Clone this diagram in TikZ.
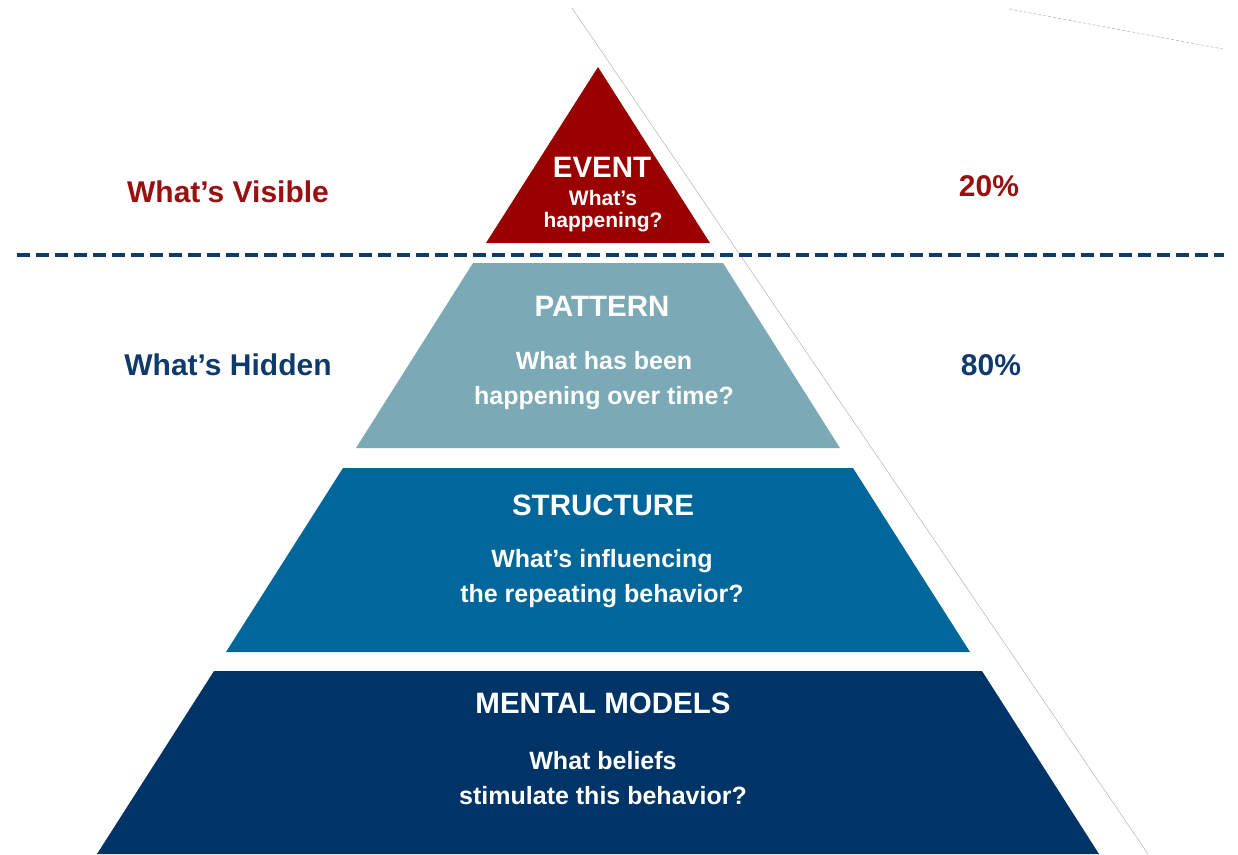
\documentclass[tikz,border=0pt]{standalone}
\usepackage{fontspec}
\setmainfont{Liberation Sans}
\definecolor{evred}{HTML}{990000}
\definecolor{patc}{HTML}{7BA9B6}
\definecolor{strc}{HTML}{016699}
\definecolor{menc}{HTML}{003466}
\definecolor{sidered}{HTML}{9A0F0F}
\definecolor{navy}{HTML}{0F3B6C}
\tikzset{
  layertitle/.style={text=white, font=\bfseries\fontsize{29.5}{30}\selectfont, inner sep=0pt, anchor=center},
  layersub/.style={text=white, font=\bfseries\fontsize{25}{35}\selectfont, align=center, inner sep=0pt, anchor=center},
  sidelabel/.style={font=\bfseries\fontsize{30}{32}\selectfont, inner sep=0pt, anchor=center},
}
\begin{document}
\begin{tikzpicture}[x=1pt,y=-1pt]
\useasboundingbox (0,0) rectangle (1238,854);
% thin guide lines
\draw[black!30, line width=0.5pt] (572,8) -- (1148,854);
\draw[black!25, line width=0.7pt, dash pattern=on 3pt off 2pt] (1009,9) -- (1223,49);
% layers
\fill[evred] (598,67) -- (710,243) -- (486,243) -- cycle;
\fill[patc] (473,263) -- (723,263) -- (840,448) -- (356,448) -- cycle;
\fill[strc] (343,468) -- (853,468) -- (970,652) -- (226,652) -- cycle;
\fill[menc] (214,671) -- (982,671) -- (1099,854) -- (97,854) -- cycle;
% dashed divider
\coordinate (dl) at (17,255);
\coordinate (dr) at (1224,255);
\draw[navy, line width=4pt, dash pattern=on 13pt off 6pt] (dl) -- (dr);
% texts
\node[layertitle] (evt) at (602,167) {EVENT};
\node[layersub, font=\bfseries\fontsize{21}{22}\selectfont] (evs) at (603,211) {What’s\\happening?};
\node[layertitle] (pat) at (602,306) {PATTERN};
\node[layersub] (pas) at (604,381) {What has been\\happening over time?};
\node[layertitle] (str) at (603,505) {STRUCTURE};
\node[layersub] (sts) at (602,579) {What’s influencing\\the repeating behavior?};
\node[layertitle] (men) at (603,703) {MENTAL MODELS};
\node[layersub] (mes) at (603,778) {What beliefs\\stimulate this behavior?};
\node[sidelabel, text=sidered] (vis) at (228,192) {What’s Visible};
\node[sidelabel, text=navy] (hid) at (228,365) {What’s Hidden};
\node[sidelabel, text=sidered] (p20) at (989,186) {20\%};
\node[sidelabel, text=navy] (p80) at (991,365) {80\%};
\end{tikzpicture}
\end{document}
